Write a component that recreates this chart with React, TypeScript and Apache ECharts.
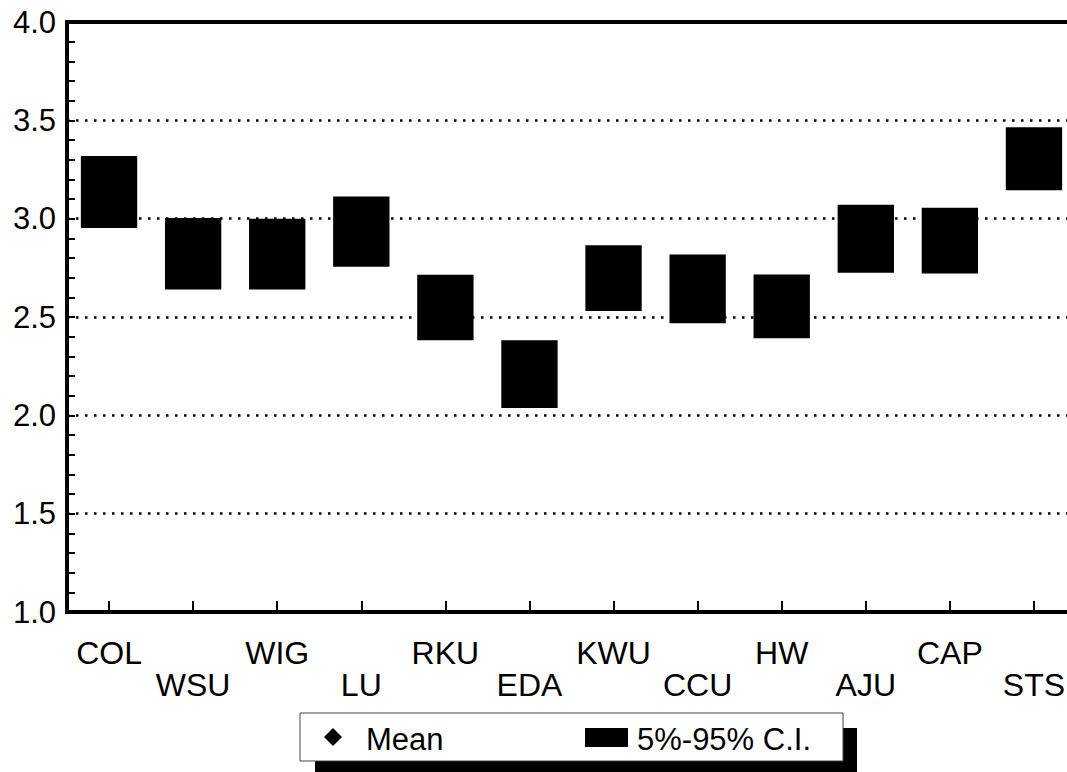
import React, { useEffect, useRef } from "react";
import * as echarts from "echarts";

const categories = ["COL", "WSU", "WIG", "LU", "RKU", "EDA", "KWU", "CCU", "HW", "AJU", "CAP", "STS"];
const ciLow = [2.953, 2.64, 2.64, 2.755, 2.382, 2.037, 2.53, 2.468, 2.392, 2.725, 2.721, 3.145];
const ciHigh = [3.319, 3.004, 3.0, 3.113, 2.715, 2.382, 2.865, 2.818, 2.716, 3.071, 3.056, 3.465];
const means = [3.14, 2.82, 2.82, 2.93, 2.55, 2.21, 2.7, 2.64, 2.55, 2.9, 2.89, 3.31];
const yTicks = { min: 1.0, max: 4.0, interval: 0.5 };
const legendLabels = ["Mean", "5%-95% C.I."];

const FONT = "'Liberation Sans', Arial, Helvetica, sans-serif";

export default function App() {
  const ref = useRef<HTMLDivElement>(null);
  useEffect(() => {
    if (!ref.current) return;
    const chart = echarts.init(ref.current, undefined, { renderer: "svg" });
    const ciData = categories.map((c, i) => [i, ciLow[i], ciHigh[i]]);
    chart.setOption({
      animation: false,
      backgroundColor: "#fff",
      grid: {
        left: 67,
        right: 24,
        top: 22,
        bottom: 160,
        show: true,
        borderColor: "#000",
        borderWidth: 4,
        backgroundColor: "transparent",
      },
      xAxis: {
        type: "category",
        data: categories,
        boundaryGap: true,
        axisLine: { show: true, lineStyle: { color: "#000", width: 4 } },
        axisTick: { show: true, inside: true, alignWithLabel: true, length: 11, lineStyle: { color: "#000", width: 2 } },
        axisLabel: {
          interval: 0,
          margin: 25,
          color: "#000",
          fontFamily: FONT,
          fontSize: 32,
          lineHeight: 32,
          formatter: (v: string, i: number) => (i % 2 === 1 ? "\n" + v : v),
        },
        splitLine: { show: false },
      },
      yAxis: {
        type: "value",
        min: yTicks.min,
        max: yTicks.max,
        interval: yTicks.interval,
        axisLine: { show: true, lineStyle: { color: "#000", width: 4 } },
        axisTick: { show: true, inside: true, length: 8, lineStyle: { color: "#000", width: 2 } },
        minorTick: { show: true, splitNumber: 5, length: 8, lineStyle: { color: "#000", width: 2 } },
        axisLabel: {
          margin: 11,
          color: "#000",
          fontFamily: FONT,
          fontSize: 31,
          formatter: (v: number) => v.toFixed(1),
        },
        splitLine: {
          show: true,
          lineStyle: { color: "#000", width: 2.5, type: [2.5, 6.5] },
        },
      },
      series: [
        {
          name: legendLabels[1],
          type: "custom",
          data: ciData,
          encode: { x: 0, y: [1, 2] },
          renderItem: (params: any, api: any) => {
            const i = api.value(0);
            const lo = api.coord([i, api.value(1)]);
            const hi = api.coord([i, api.value(2)]);
            const w = api.size([1, 0])[0] * 0.67;
            return {
              type: "rect",
              shape: { x: lo[0] - w / 2, y: hi[1], width: w, height: lo[1] - hi[1] },
              style: { fill: "#000" },
            };
          },
          z: 2,
        },
        {
          name: legendLabels[0],
          type: "scatter",
          data: means.map((m, i) => [i, m]),
          symbol: "diamond",
          symbolSize: 18,
          itemStyle: { color: "#000" },
          z: 3,
        },
      ],
      graphic: [
        { type: "rect", shape: { x: 315, y: 728, width: 542, height: 60 }, style: { fill: "#000" } },
        { type: "rect", shape: { x: 300, y: 713, width: 543, height: 48 }, style: { fill: "#fff", stroke: "#444", lineWidth: 1 } },
        {
          type: "polygon",
          shape: { points: [[333, 728], [342, 737], [333, 746], [324, 737]] },
          style: { fill: "#000" },
        },
        {
          type: "text",
          x: 366,
          y: 739,
          style: { text: legendLabels[0], fill: "#000", font: `31px ${FONT}`, textVerticalAlign: "middle", textAlign: "left" },
        },
        { type: "rect", shape: { x: 585, y: 728, width: 43, height: 19 }, style: { fill: "#000" } },
        {
          type: "text",
          x: 637,
          y: 739,
          style: { text: legendLabels[1], fill: "#000", font: `31px ${FONT}`, textVerticalAlign: "middle", textAlign: "left" },
        },
      ],
    });
    return () => chart.dispose();
  }, []);
  return (
    <div
      ref={ref}
      style={{ position: "fixed", left: 0, top: 0, width: 1100, height: 772, background: "#fff" }}
    />
  );
}
